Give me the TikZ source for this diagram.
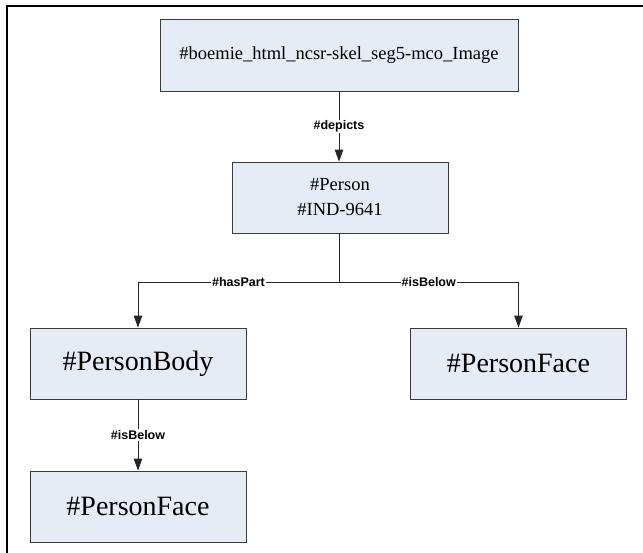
\documentclass[tikz,border=0pt]{standalone}
\usepackage{fontspec}
\setmainfont{Liberation Serif}
\newfontfamily\lblfont{Liberation Sans}
\usetikzlibrary{arrows.meta,shadows}

\definecolor{boxfill}{HTML}{E5ECF6}
\definecolor{boxline}{HTML}{3A3A3A}
\definecolor{edgeline}{HTML}{262626}

\tikzset{
  entity/.style={draw=boxline, fill=boxfill, line width=0.8pt, inner sep=0pt,
    align=center, text=black,
    drop shadow={shadow xshift=0.6pt, shadow yshift=-1.4pt, fill=black!50, opacity=1}},
  small/.style={entity, font=\fontsize{18.5}{25}\selectfont},
  large/.style={entity, font=\fontsize{28}{32}\selectfont,
    minimum width=216pt, minimum height=71pt},
  edge/.style={draw=edgeline, line width=0.9pt,
    -{Triangle[length=12pt,width=8.5pt]}},
  lbl/.style={fill=white, inner sep=1pt, text=black,
    font=\lblfont\bfseries\fontsize{12.5}{14}\selectfont}
}

\begin{document}
\begin{tikzpicture}[x=1pt, y=-1pt]
  \useasboundingbox (0,0) rectangle (643,553);

  % outer frame: top and left rules only
  \draw[line width=2.2pt, line cap=rect] (643,6) -- (7,6) -- (7,553);

  % entities
  \node[small, minimum width=358pt, minimum height=72pt] (img) at (339,55)
    {\#boemie\_html\_ncsr-skel\_seg5-mco\_Image};
  \node[small, minimum width=216pt, minimum height=71pt] (person) at (340,197.5)
    {\#Person\\\#IND-9641};
  \node[large] (body)  at (138,363.5) {\#PersonBody};
  \node[large] (faceR) at (518.5,363.5) {\#PersonFace};
  \node[large] (faceB) at (138,506.5) {\#PersonFace};

  % branching point below #Person
  \coordinate (split) at (339,282.5);

  % relations
  \draw[edge] (img) -- node[lbl] {\#depicts} (person.north -| img);
  \draw[draw=edgeline, line width=0.9pt] (person.south -| split) -- (split);
  \draw[edge] (split) -| node[lbl, pos=0.25] {\#hasPart} (body);
  \draw[edge] (split) -| node[lbl, pos=0.25] {\#isBelow} (faceR);
  \draw[edge] (body) -- node[lbl] {\#isBelow} (faceB);
\end{tikzpicture}
\end{document}
